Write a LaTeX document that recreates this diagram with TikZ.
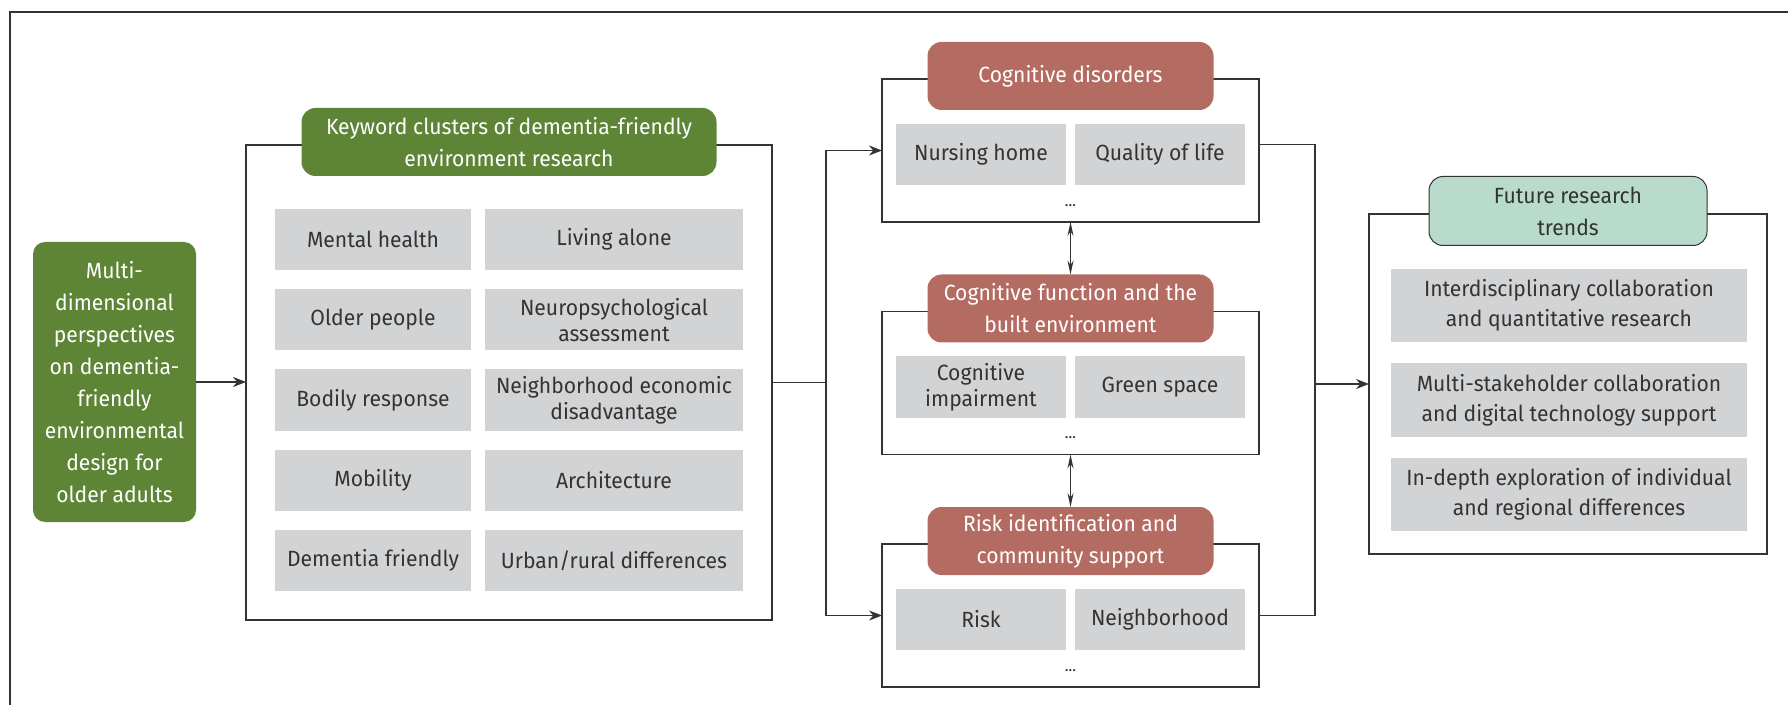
\documentclass[tikz,border=0pt]{standalone}
\usepackage{fontspec}
\setmainfont{Fira Sans}[FakeStretch=0.96]
\usepackage{tikz}
\usetikzlibrary{arrows.meta,positioning,calc}
\definecolor{leaf}{HTML}{5E8536}
\definecolor{brick}{HTML}{B46C62}
\definecolor{mint}{HTML}{B8DBCB}
\definecolor{cellgray}{HTML}{D2D3D5}
\definecolor{ink}{HTML}{333333}
\tikzset{
  panel/.style={draw=ink,line width=1.2pt,inner sep=0pt,outer sep=0pt,fill=white},
  head/.style={rounded corners=14pt,align=center,inner sep=0pt,outer sep=0pt,text=white,
    font=\fontsize{22}{32}\selectfont,minimum height=68pt},
  kwcell/.style={fill=cellgray,text=ink,align=center,inner sep=0pt,outer sep=0pt,
    minimum height=61pt,font=\fontsize{22}{26}\selectfont},
  arr/.style={-{Stealth[length=13pt,width=10pt]},line width=1.2pt,draw=ink},
  link/.style={line width=1.2pt,draw=ink},
  twoway/.style={{Stealth[length=14pt,width=6pt]}-{Stealth[length=14pt,width=6pt]},line width=1pt,draw=ink}
}

\begin{document}
\begin{tikzpicture}[x=1pt,y=1pt]
  \useasboundingbox (0,0) rectangle (1788,705);
  \draw[ink,line width=1.5pt] (10,0) -- (10,693) -- (1788,693);

  \node[head,fill=leaf,minimum width=163pt,minimum height=280pt,rounded corners=12pt] (multi) at (114.5,323)
    {Multi-\\dimensional\\perspectives\\on dementia-\\friendly\\environmental\\design for\\older adults};

  % keyword clusters
  \node[panel,minimum width=526pt,minimum height=475pt] (kw) at (509,322.5) {};
  \node[head,fill=leaf,minimum width=415pt,yshift=3pt] (hkw) at (kw.north)
    {Keyword clusters of dementia-friendly\\environment research};
  \foreach \kwa/\kwb [count=\i from 0] in {{Mental health}/{Living alone},
      {Older people}/{Neuropsychological\\assessment},
      {Bodily response}/{Neighborhood economic\\disadvantage},
      {Mobility}/{Architecture},
      {Dementia friendly}/{Urban/rural differences}} {
    \node[kwcell,minimum width=196pt] (kl\i) at (373,465.5-80.25*\i) {\kwa};
    \node[kwcell,minimum width=258pt] (kr\i) at (614,465.5-80.25*\i) {\kwb};
  }

  % three topic groups
  \foreach \nm/\y/\hd/\ca/\cb in {cd/554.5/{Cognitive disorders}/{Nursing home}/{Quality of life},
      cf/322/{Cognitive function and the\\built environment}/{Cognitive\\impairment}/{Green space},
      ri/89.5/{Risk identification and\\community support}/{Risk}/{Neighborhood}} {
    \node[panel,minimum width=377pt,minimum height=143pt] (\nm) at (1070.5,\y) {};
    \node[head,fill=brick,minimum width=286pt,yshift=3pt] (h\nm) at (\nm.north) {\hd};
    \node[kwcell,minimum width=170pt] (\nm a) at (981,\y-4) {\ca};
    \node[kwcell,minimum width=170pt] (\nm b) at (1160,\y-4) {\cb};
    \node[text=ink,font=\fontsize{16}{16}\selectfont] (\nm dots) at (1070.5,\y-55) {...};
  }

  % future trends
  \node[panel,minimum width=398pt,minimum height=340pt] (fut) at (1568,321) {};
  \node[head,fill=mint,draw=ink,line width=1pt,text=ink,minimum width=278pt,minimum height=69pt,yshift=3pt]
    (hfut) at (fut.north) {Future research\\trends};
  \foreach \t [count=\i from 0] in {{Interdisciplinary collaboration\\and quantitative research},
      {Multi-stakeholder collaboration\\and digital technology support},
      {In-depth exploration of individual\\and regional differences}} {
    \node[kwcell,minimum width=356pt,minimum height=73pt,font=\fontsize{22}{30}\selectfont]
      (f\i) at (1569,399.5-94.5*\i) {\t};
  }

  % connectors
  \draw[arr] (multi.east) -- (multi.east -| kw.west);
  \coordinate (split) at (826,322.5);
  \draw[link] (kw.east) -- (split);
  \draw[arr] (split) |- (cd.west);
  \draw[arr] (split) |- (ri.west);
  \draw[twoway] (cd.south) -- (hcf.north);
  \draw[twoway] (cf.south) -- (hri.north);
  \coordinate (join) at (1315,321);
  \draw[link] ([yshift=6pt]cd.east) -| (join) |- (ri.east);
  \draw[arr] (join) -- (fut.west);
\end{tikzpicture}
\end{document}
